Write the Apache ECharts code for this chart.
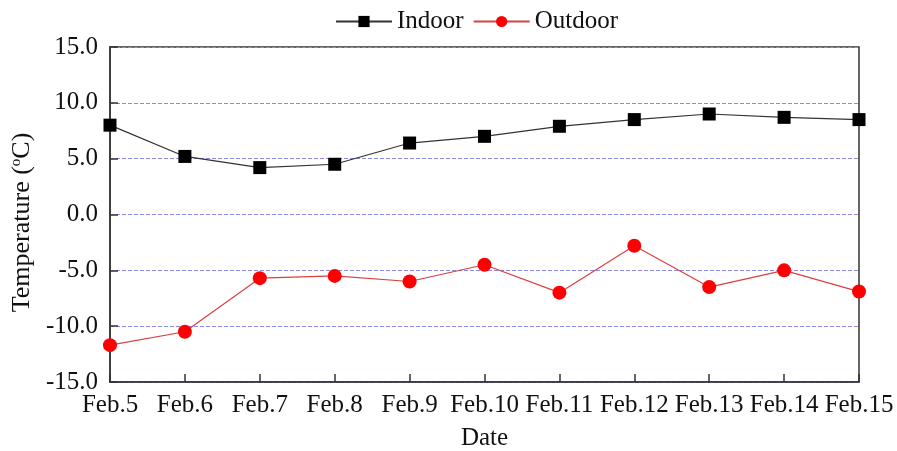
<!DOCTYPE html>
<html>
<head>
<meta charset="utf-8">
<script src="https://cdn.jsdelivr.net/npm/echarts@6/dist/echarts.min.js"></script>
<style>html,body{margin:0;padding:0;background:#fff;}#c{width:897px;height:451px;}</style>
</head>
<body>
<div id="c"></div>
<script>
const categories = ['Feb.5','Feb.6','Feb.7','Feb.8','Feb.9','Feb.10','Feb.11','Feb.12','Feb.13','Feb.14','Feb.15'];
const indoor = [8.0, 5.2, 4.2, 4.5, 6.4, 7.0, 7.9, 8.5, 9.0, 8.7, 8.5];
const outdoor = [-11.7, -10.5, -5.7, -5.5, -6.0, -4.5, -7.0, -2.8, -6.5, -5.0, -6.9];
const yTicks = [-15, -10, -5, 0, 5, 10, 15];

const FONT = 'Liberation Serif';
const chart = echarts.init(document.getElementById('c'));
chart.setOption({
  animation: false,
  textStyle: { fontFamily: FONT },
  legend: {
    left: 330, top: 4,
    itemWidth: 56, itemHeight: 14, itemGap: 9,
    textStyle: { fontFamily: FONT, fontSize: 25, color: '#111' },
    data: ['Indoor', 'Outdoor']
  },
  grid: {
    left: 110, right: 38, top: 47, bottom: 69,
    outerBoundsMode: 'none', containLabel: false,
    show: true, borderColor: '#333', borderWidth: 1.5, backgroundColor: 'transparent'
  },
  xAxis: {
    type: 'category', data: categories, boundaryGap: false,
    name: 'Date', nameLocation: 'middle', nameGap: 44,
    nameTextStyle: { fontFamily: FONT, fontSize: 25, color: '#111' },
    axisLine: { onZero: false, lineStyle: { color: '#333', width: 1.5 } },
    axisTick: { inside: true, length: 8, lineStyle: { color: '#333', width: 1.5 } },
    axisLabel: { interval: 0, fontFamily: FONT, fontSize: 25, color: '#111', margin: 11 },
    splitLine: { show: false }
  },
  yAxis: {
    type: 'value', min: yTicks[0], max: yTicks[yTicks.length - 1], interval: 5,
    name: '{n|Temperature (}{s|o}{n|C)}', nameLocation: 'middle', nameGap: 71, nameRotate: 90,
    nameTextStyle: {
      padding: [0, 16, 0, 0],
      rich: {
        n: { fontFamily: FONT, fontSize: 26, color: '#111' },
        s: { fontFamily: FONT, fontSize: 15, color: '#111', verticalAlign: 'top', padding: [0, 0, 10, 0] }
      }
    },
    axisLine: { show: true, lineStyle: { color: '#333', width: 1.5 } },
    axisTick: { show: true, inside: true, length: 8, lineStyle: { color: '#333', width: 1.5 } },
    axisLabel: { fontFamily: FONT, fontSize: 25, color: '#111', margin: 12, formatter: v => v.toFixed(1) },
    splitLine: { show: true, lineStyle: { color: '#8a8ae0', type: [4, 2], width: 1 } }
  },
  series: [
    {
      name: 'Indoor', type: 'line', data: indoor,
      symbol: 'rect', symbolSize: 13,
      lineStyle: { color: '#333', width: 1.2 },
      itemStyle: { color: '#000' }
    },
    {
      name: 'Outdoor', type: 'line', data: outdoor,
      symbol: 'circle', symbolSize: 14,
      lineStyle: { color: '#d94040', width: 1.2 },
      itemStyle: { color: '#ff0000' }
    }
  ]
});
</script>
</body>
</html>
